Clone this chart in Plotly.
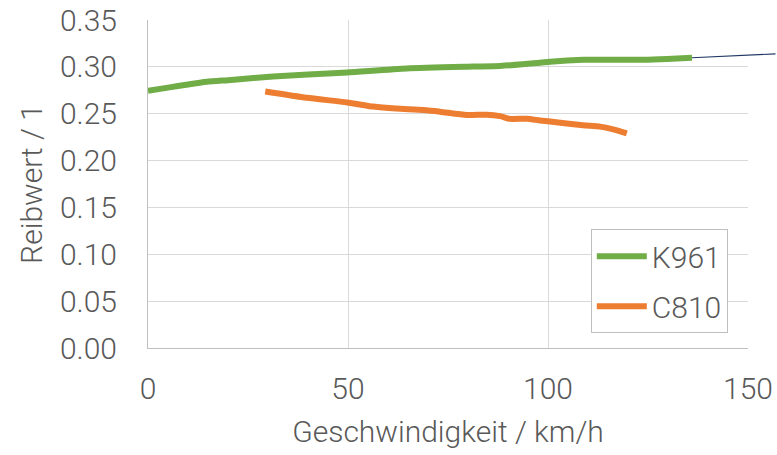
import plotly.graph_objects as go

# K961 (green) speed / friction
k961_speed = [0, 5, 10, 14.7, 20, 31.25, 40, 49.8, 64.7, 81.3, 88, 98, 100.5, 108.75, 115, 123.75, 129.75, 136]
k961_mu = [0.2744, 0.2778, 0.2812, 0.284, 0.2858, 0.2897, 0.2918, 0.294, 0.2983, 0.3003, 0.301, 0.3043, 0.3054, 0.3075, 0.3077, 0.3075, 0.3083, 0.3097]

# C810 (orange)
c810_speed = [29.3, 39.7, 49.8, 56.3, 62, 68.8, 73, 79.7, 84.7, 88, 90.5, 94.7, 98, 100.5, 108.75, 113, 116.3, 119.7]
c810_mu = [0.2737, 0.267, 0.262, 0.2576, 0.2555, 0.254, 0.2522, 0.2487, 0.249, 0.2474, 0.2445, 0.2447, 0.2428, 0.2416, 0.2376, 0.2362, 0.2333, 0.229]

x_ticks = [0, 50, 100, 150]
y_ticks = [0.0, 0.05, 0.10, 0.15, 0.20, 0.25, 0.30, 0.35]

font_family = "Roboto"
grey = "#595959"
fs = 30

fig = go.Figure()
fig.add_trace(go.Scatter(x=k961_speed, y=k961_mu, mode="lines", name="K961",
                         line=dict(color="#70AD47", width=6, shape="spline", smoothing=0.6),
                         legendgroup="a"))
fig.add_trace(go.Scatter(x=c810_speed, y=c810_mu, mode="lines", name="C810",
                         line=dict(color="#ED7D31", width=6, shape="spline", smoothing=0.6),
                         legendgroup="b"))

# leader line leaving the end of the K961 curve
fig.add_annotation(x=k961_speed[-1], y=k961_mu[-1], xref="x", yref="y",
                   text="", showarrow=True, arrowhead=0, arrowwidth=1.2,
                   arrowcolor="#203864", ax=130, ay=-4, standoff=0, startstandoff=0)

fig.update_layout(
    template="none",
    width=777, height=455,
    margin=dict(l=148, r=29, t=20, b=107, autoexpand=False),
    paper_bgcolor="white", plot_bgcolor="white",
    font=dict(family=font_family, size=fs, color=grey, weight=300),
    showlegend=True,
    legend=dict(x=0.738, y=0.362, xanchor="left", yanchor="top",
                bordercolor="#bfbfbf", borderwidth=1, bgcolor="white",
                font=dict(family=font_family, size=fs, color=grey, weight=300),
                traceorder="grouped", tracegroupgap=8, itemwidth=50),
    xaxis=dict(range=[0, 150], tickvals=x_ticks, ticktext=[str(v) for v in x_ticks],
               showgrid=True, gridcolor="#d9d9d9", gridwidth=1, automargin=False,
               showline=True, linecolor="#bfbfbf", linewidth=1, mirror=False,
               zeroline=False, ticks="", ticklabelstandoff=14, ticklabeloverflow="allow",
               title=dict(text="Geschwindigkeit / km/h", standoff=15,
                          font=dict(family=font_family, size=fs, color=grey, weight=300))),
    yaxis=dict(range=[0, 0.35], tickvals=y_ticks, ticktext=[f"{v:.2f}" for v in y_ticks],
               showgrid=True, gridcolor="#d9d9d9", gridwidth=1, automargin=False,
               showline=True, linecolor="#bfbfbf", linewidth=1,
               zeroline=False, ticks="", ticklabelstandoff=24, ticklabeloverflow="allow",
               title=dict(text="Reibwert / 1", standoff=8,
                          font=dict(family=font_family, size=fs, color=grey, weight=300))),
)

fig.write_html("out.html", config={"displayModeBar": False},
               post_script="document.body.style.margin='0';document.body.style.overflow='hidden';")
